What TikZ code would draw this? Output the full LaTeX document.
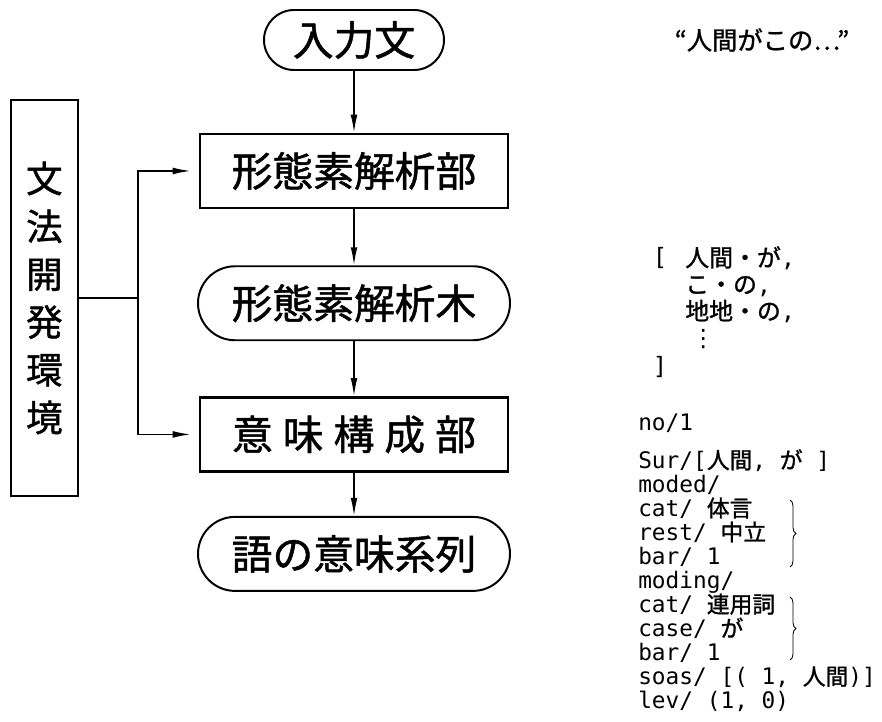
\documentclass[tikz,border=0pt]{standalone}
\usepackage{fontspec}
\setmainfont{Noto Sans CJK JP}[FakeBold=1.2]
\newfontfamily\hwfont{DejaVu Sans Mono}
\newfontfamily\symfont{DejaVu Sans}
\newfontfamily\jafont{Noto Sans CJK JP}[FakeBold=1.2]
\usetikzlibrary{arrows.meta, shapes.misc, decorations.pathreplacing}
\tikzstyle{stage} = [draw, line width=1.8pt, minimum width=7.7cm, minimum height=1.85cm, inner sep=0pt, font=\fontsize{29}{34}\selectfont]
\tikzstyle{stageRes} = [stage, rounded rectangle, line width=1.4pt, minimum width=7.8cm]
\tikzstyle{entry} = [stageRes, minimum width=4.5cm, minimum height=1.5cm]
\tikzstyle{env} = [draw, line width=1.8pt, minimum width=1.675cm, minimum height=9.9cm, inner sep=0pt, align=center, font=\fontsize{26}{34}\selectfont]
\tikzstyle{line} = [draw, line width=1.1pt, -{Latex[length=4.5mm, width=1.7mm]}]
\tikzstyle{note} = [inner sep=0pt, align=left, font=\hwfont\fontsize{16.2}{17.1}\selectfont]
\tikzstyle{brace} = [draw, line width=0.6pt, decorate, decoration={brace, amplitude=0.15cm}]
\newcommand{\ja}[1]{{\jafont #1}}
\newcommand{\stage}[2]{
node (s#1) [stage] {#2}}
\newcommand{\stageRes}[2]{
node (s#1) [stageRes] {#2}}
\newcommand{\arrow}[2]{
  \path [line] (#1.south) -- (#2);}

\begin{document}
\begin{tikzpicture}
		\useasboundingbox (0,0) rectangle (22.05,-18.05);

		% Draw diagram elements
		\path (8.85,-1.0) node (s1) [entry] {入力文};
		\path (s1.south)+(0.0, -2.5) \stage{2}{形態素解析部};
		\path (s2.south)+(0.0, -2.35) \stageRes{3}{形態素解析木};
		\path (s3.south)+(0.0, -2.33) \stage{4}{意\hspace{0.25cm}味\hspace{0.25cm}構\hspace{0.25cm}成\hspace{0.25cm}部};
		\path (s4.south)+(0.0, -2.03) \stageRes{5}{語の意味系列};

		% Grammar environment on the left
		\path (1.11,-7.45) node (env) [env] {文\\法\\開\\発\\環\\境};
		\path (env.east)+(1.475, 0.0) coordinate (split);

		% Examples on the right
		\path (19.05,-1.0) node (sentence) [font=\fontsize{18}{20}\selectfont] {“人間がこの…”};
		\path (16.5,-6.45) node (lbrack) [note, font=\hwfont\fontsize{17}{19}\selectfont] {[};
		\path (17.125,-6.15) node (morphs) [inner sep=0pt, align=left, anchor=north west, font=\fontsize{17}{19}\selectfont] {人間・が{\hwfont ,}\\こ・の{\hwfont ,}\\地地・の{\hwfont ,}\\\hspace{0.15cm}{\symfont ⋮}};
		\path (16.5,-9.18) node (rbrack) [note, font=\hwfont\fontsize{17}{19}\selectfont] {]};
		\path (15.95,-10.575) node (no) [note, anchor=west] {no/1};
		\path (15.95,-11.225) node (feat) [note, anchor=north west] {Sur/[\ja{人間}, \ja{が} ]\\moded/\\cat/ \ja{体言}\\rest/ \ja{中立}\\bar/ 1\\moding/\\cat/ \ja{連用詞}\\case/ \ja{が}\\bar/ 1\\soas/ [( 1, \ja{人間})]\\lev/ (1, 0)};
		\draw [brace] (19.75,-12.5) -- (19.75,-14.175);
		\draw [brace] (19.75,-14.925) -- (19.75,-16.5);

		% Draw arrows between elements
		\arrow{s1}{s2};
		\arrow{s2}{s3};
		\arrow{s3}{s4};
		\arrow{s4}{s5};
		\draw [line width=1.1pt] (env.east) -- (split);
		\path [line, shorten >=0.2cm] (split) |- (s2.west);
		\path [line, shorten >=0.2cm] (split) |- (s4.west);

\end{tikzpicture}
\end{document}
